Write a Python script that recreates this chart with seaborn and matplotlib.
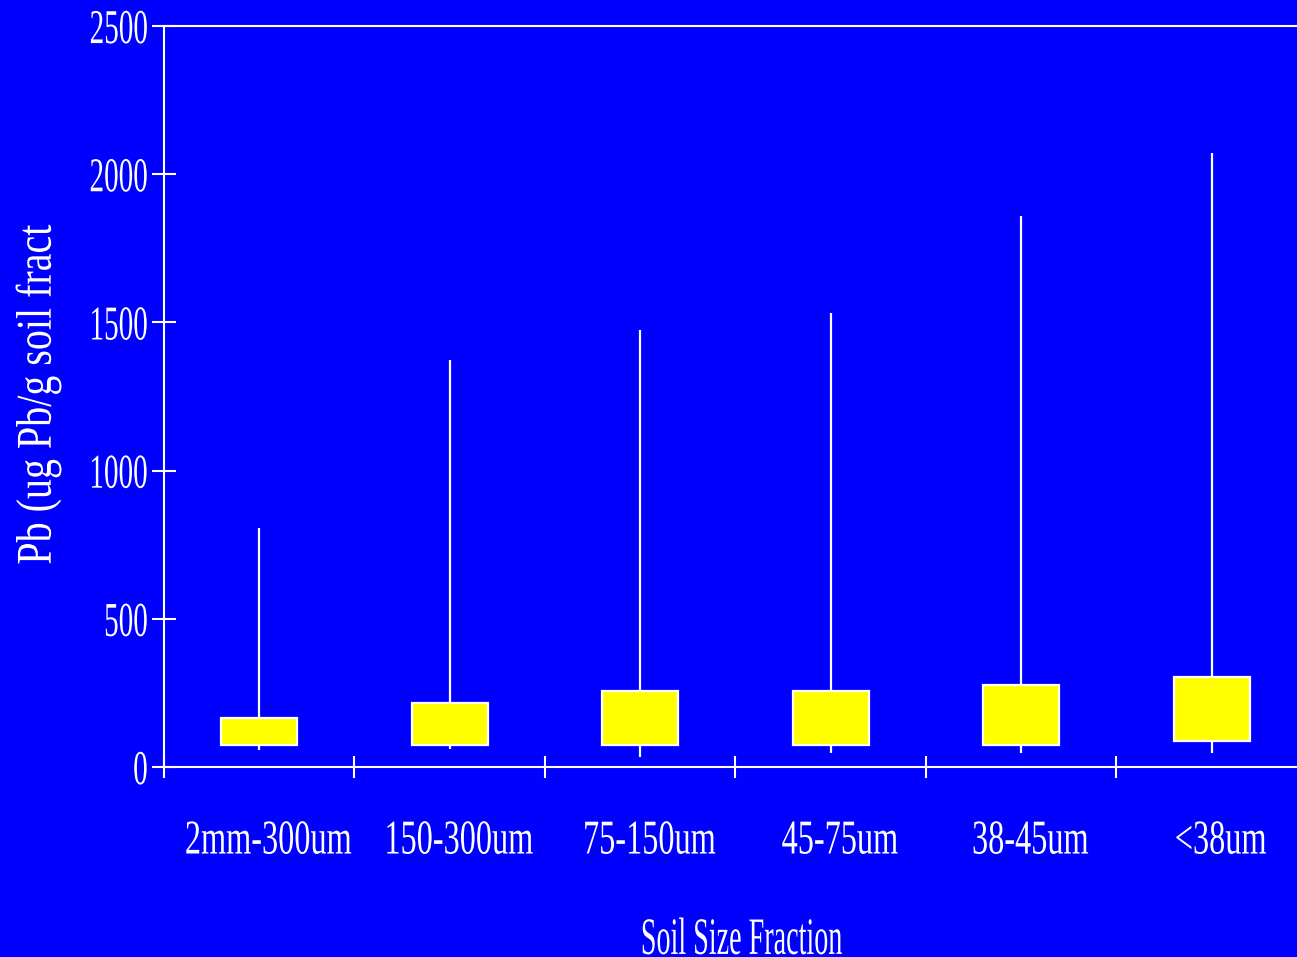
import numpy as np
import pandas as pd
import matplotlib
matplotlib.use("Agg")
import matplotlib.pyplot as plt
import seaborn as sns
from matplotlib.patheffects import AbstractPathEffect
from matplotlib.transforms import Affine2D

# ---- data ----
categories = ["2mm-300um", "150-300um", "75-150um", "45-75um", "38-45um", "<38um"]
whisker_low = [59, 61, 33, 46, 46, 46]
q1 = [74, 74, 74, 74, 74, 89]
median = [110, 130, 150, 150, 160, 180]   # not drawn in the reference
q3 = [165, 217, 257, 257, 278, 305]
whisker_high = [806, 1373, 1474, 1532, 1859, 2072]
y_ticks = [0, 500, 1000, 1500, 2000, 2500]

# five values per group reproduce the box statistics exactly
rows = []
for c, lo, a, m, b, hi in zip(categories, whisker_low, q1, median, q3, whisker_high):
    for v in (lo, a, m, b, hi):
        rows.append({"fraction": c, "pb": v})
df = pd.DataFrame(rows)


class Squeeze(AbstractPathEffect):
    """Draw text glyphs condensed/stretched (the text stays real text)."""
    def __init__(self, sx=1.0, sy=1.0, anchor="center", dx=0.0):
        super().__init__()
        self.sx, self.sy, self.anchor, self.dx = sx, sy, anchor, dx

    def draw_path(self, renderer, gc, tpath, affine, rgbFace=None):
        ext = tpath.get_extents(affine)
        if self.anchor == "right":
            cx = ext.x1
        elif self.anchor == "left":
            cx = ext.x0
        else:
            cx = (ext.x0 + ext.x1) / 2
        cy = (ext.y0 + ext.y1) / 2
        t = affine + (Affine2D().translate(-cx, -cy).scale(self.sx, self.sy)
                      .translate(cx + self.dx, cy))
        renderer.draw_path(gc, tpath, t, rgbFace)


BLUE = "#0000FF"
plt.rcParams["font.family"] = ["Liberation Serif", "DejaVu Serif"]

fig = plt.figure(figsize=(12.97, 9.57), dpi=100, facecolor=BLUE)
ax = fig.add_axes([0.1264, 0.1985, 0.8813, 0.7743])
ax.set_facecolor(BLUE)

sns.boxplot(data=df, x="fraction", y="pb", order=categories, ax=ax,
            color="#FFFF00", saturation=1, width=0.4,
            linecolor="white", linewidth=1.6, whis=(0, 100),
            showcaps=False, showfliers=False,
            medianprops={"visible": False})

ax.set_xlim(-0.5, 5.5)
ax.set_ylim(0, 2500)
ax.set_yticks(y_ticks)
ax.set_yticklabels([str(v) for v in y_ticks])
ax.grid(False)

for s in ["left", "bottom", "top", "right"]:
    ax.spines[s].set_color("white")
    ax.spines[s].set_linewidth(1.5)

# y ticks crossing the axis
ax.tick_params(axis="y", which="major", direction="inout", length=17, width=1.5,
               color="white", labelcolor="white", labelsize=25, pad=3)
# x: labels at category centres without ticks, ticks at category boundaries
ax.tick_params(axis="x", which="major", length=0, labelcolor="white",
               labelsize=25, pad=41)
ax.set_xticks(np.arange(-0.5, 6.0, 1.0), minor=True)
ax.tick_params(axis="x", which="minor", direction="inout", length=16, width=1.5,
               color="white")

for lab in ax.get_yticklabels():
    lab.set_path_effects([Squeeze(sx=0.84, sy=1.4, anchor="right")])
for lab in ax.get_xticklabels():
    lab.set_path_effects([Squeeze(sx=0.93, sy=1.4, dx=9)])

ax.set_xlabel("Soil Size Fraction", color="white", fontsize=27, va="top")
ax.xaxis.set_label_coords(0.505, -0.2095)
ax.xaxis.label.set_path_effects([Squeeze(sx=0.75, sy=1.4)])

ax.set_ylabel("Pb (ug Pb/g soil fract", color="white", fontsize=36, va="center")
ax.yaxis.set_label_coords(-0.110, 0.502)
ax.yaxis.label.set_path_effects([Squeeze(sy=0.8)])

fig.savefig("out.png", dpi=100, facecolor=BLUE)
